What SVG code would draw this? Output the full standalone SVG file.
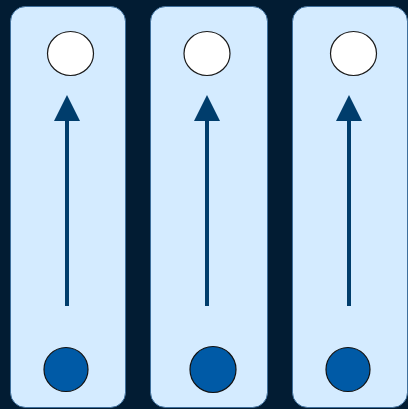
<svg xmlns="http://www.w3.org/2000/svg" width="408" height="409" viewBox="0 0 408 409">
  <style>
    .lane { fill: #d4ebff; stroke: #3f6f9c; stroke-width: 1; }
    .top { fill: #ffffff; stroke: #1a1a1a; stroke-width: 1.2; }
    .bottom { fill: #005aa6; stroke: #111111; stroke-width: 1.2; }
    .shaft { stroke: #003d6c; stroke-width: 4; fill: none; }
    .head { fill: #003d6c; }
  </style>
  <rect width="408" height="409" fill="#021c33"/>
  <g id="lanes">
    <rect id="lane1" class="lane" x="10.5" y="6.5" width="115" height="401" rx="15"/>
    <rect id="lane2" class="lane" x="150.5" y="6.5" width="117" height="401" rx="15"/>
    <rect id="lane3" class="lane" x="292.5" y="6.5" width="115" height="401" rx="15"/>
  </g>
  <g id="connectors">
    <line class="shaft" x1="67" y1="306" x2="67" y2="118"/>
    <polygon class="head" points="67,95 80,121 54,121"/>
    <line class="shaft" x1="207" y1="306" x2="207" y2="118"/>
    <polygon class="head" points="207,95 220,121 194,121"/>
    <line class="shaft" x1="349" y1="306" x2="349" y2="118"/>
    <polygon class="head" points="349,95 362,121 336,121"/>
  </g>
  <g id="node-top-1"><ellipse class="top" cx="70.5" cy="53.5" rx="23" ry="22"/></g>
  <g id="node-top-2"><ellipse class="top" cx="207" cy="53.5" rx="23" ry="22"/></g>
  <g id="node-top-3"><ellipse class="top" cx="353.5" cy="53.5" rx="23" ry="22"/></g>
  <g id="node-bottom-1"><circle class="bottom" cx="66" cy="369.5" r="22"/></g>
  <g id="node-bottom-2"><circle class="bottom" cx="213" cy="369.5" r="23"/></g>
  <g id="node-bottom-3"><circle class="bottom" cx="348" cy="369.5" r="22"/></g>
</svg>
